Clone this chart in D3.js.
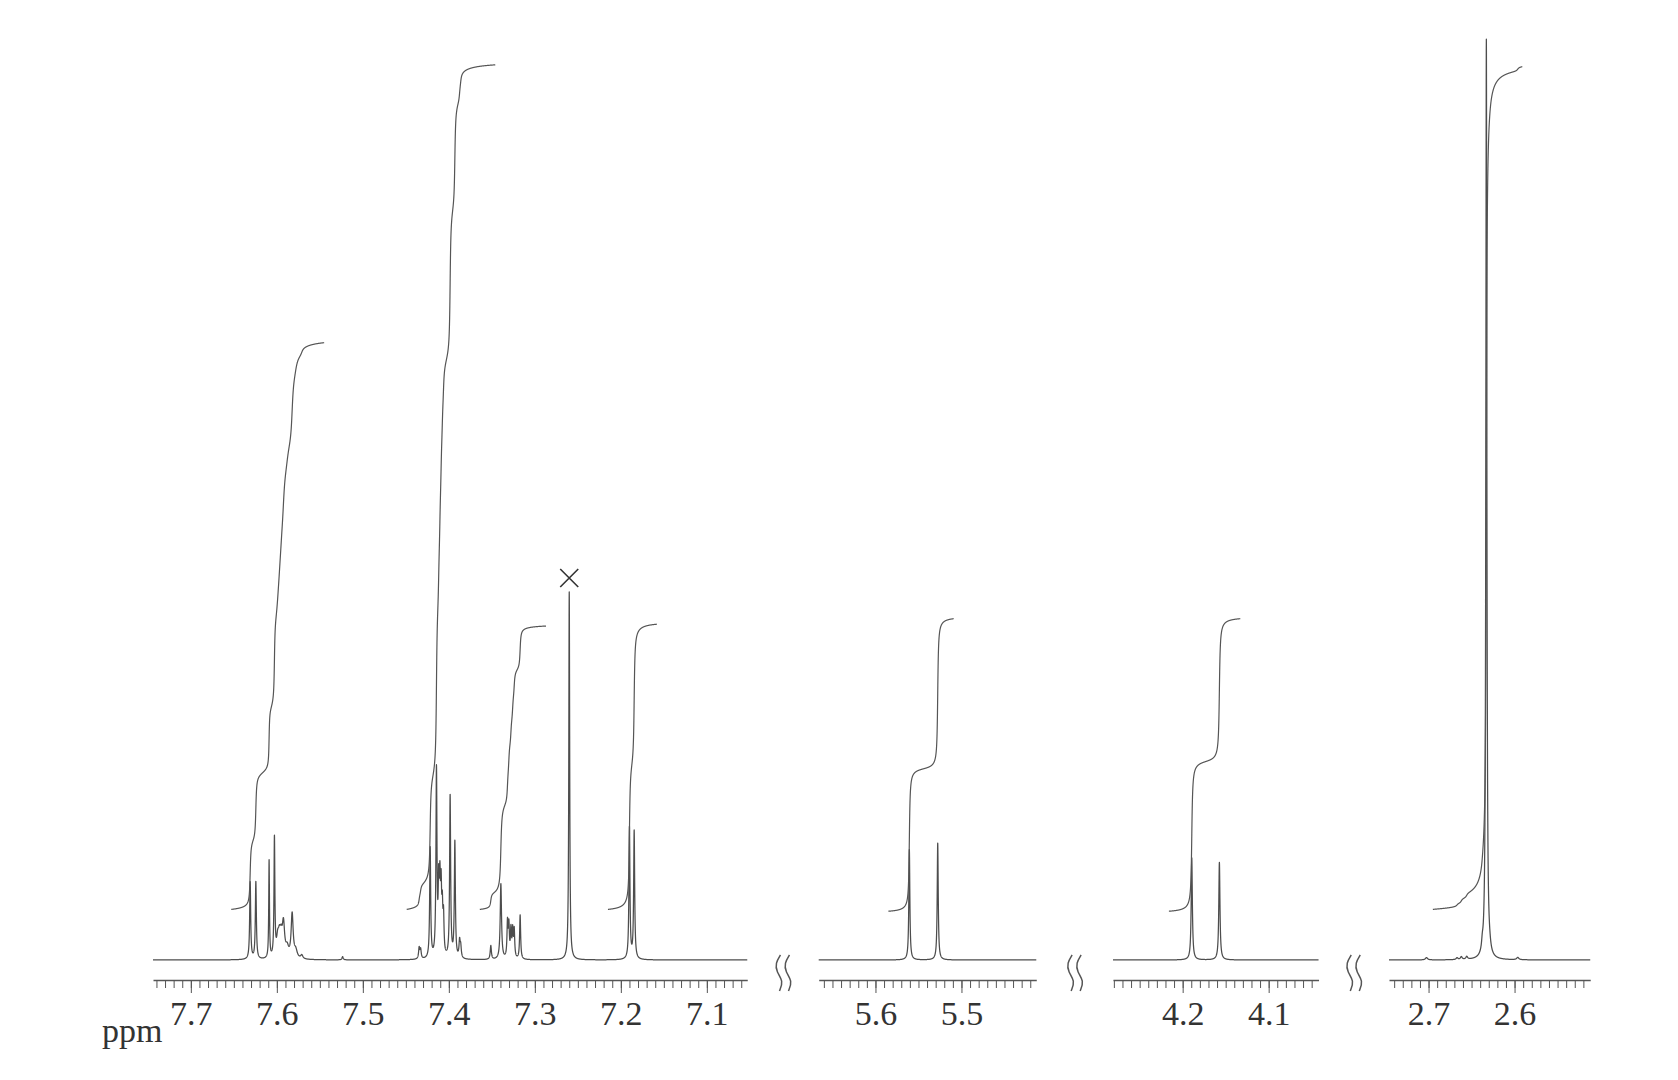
<!DOCTYPE html>
<html>
<head>
<meta charset="utf-8">
<script src="https://cdn.jsdelivr.net/npm/d3@7"></script>
<style>
  body { margin: 0; background: #fff; }
  svg { display: block; }
</style>
</head>
<body>
<script>
// ---- data: chemical shift (ppm), height (0-100 scale), half width (ppm)
var m1 = [
  [7.6310, 8.4, 0.0007], [7.6244, 8.4, 0.0007], [7.6090, 10.6, 0.0005], [7.6028, 12.9, 0.0006],
  [7.5990, 1.8, 0.0016], [7.5970, 1.8, 0.0016], [7.5950, 1.8, 0.0016], [7.5923, 3.5, 0.0016],
  [7.5880, 1.0, 0.0020], [7.5822, 4.8, 0.0014], [7.5780, 0.8, 0.0020], [7.5710, 0.4, 0.0015]
];
var m2 = [
  [7.4345, 1.2, 0.0008], [7.4328, 1.0, 0.0008], [7.4217, 12.0, 0.0007], [7.4144, 20.2, 0.0007],
  [7.4118, 7.0, 0.0007], [7.4104, 7.0, 0.0007], [7.4090, 6.5, 0.0007], [7.4076, 4.5, 0.0007],
  [7.4062, 4.0, 0.0007], [7.3985, 17.6, 0.0007], [7.3930, 12.6, 0.0007], [7.3875, 1.8, 0.0008],
  [7.3862, 1.2, 0.0008]
];
var m3 = [
  [7.3512, 1.5, 0.0008], [7.3395, 8.2, 0.0009], [7.3318, 3.8, 0.0007], [7.3302, 3.4, 0.0007],
  [7.3278, 3.0, 0.0007], [7.3258, 2.9, 0.0007], [7.3240, 3.0, 0.0007], [7.3171, 4.8, 0.0007]
];
var m4 = [[7.1900, 14.3, 0.0007], [7.1845, 13.9, 0.0007]];
var m5 = [[5.5606, 12.0, 0.0007], [5.5276, 12.7, 0.0007]];
var m6 = [[4.1894, 11.1, 0.0008], [4.1573, 10.6, 0.0008]];
var m7 = [
  [2.7024, 0.25, 0.0015], [2.6669, 0.2, 0.0012], [2.6619, 0.3, 0.0012], [2.6556, 0.3, 0.0012],
  [2.6375, 0.8, 0.0010], [2.6328, 100, 0.0007], [2.6290, 0.4, 0.0015], [2.5963, 0.25, 0.0015]
];
var solvent = [[7.2600, 40, 0.0006]];   // CHCl3, marked with a cross
var bumps = [[7.5235, 0.35, 0.0008]];

// integrals: peaks, from ppm, to ppm, start level, end level
var integrals = [
  [m1, 7.653, 7.545, 5.5, 67.1],
  [m2, 7.449, 7.346, 5.5, 97.3],
  [m3, 7.364, 7.287, 5.5, 36.3],
  [m4, 7.215, 7.158, 5.5, 36.5],
  [m5, 5.585, 5.509, 5.3, 37.1],
  [m6, 4.216, 4.133, 5.3, 37.1],
  [m7, 2.695, 2.591, 5.5, 97.1]
];

// shown ppm windows and their labelled ticks
var panelRanges = [[7.744, 7.053], [5.666, 5.413], [4.281, 4.042], [2.746, 2.512]];
var panelLabels = [[7.7, 7.6, 7.5, 7.4, 7.3, 7.2, 7.1], [5.6, 5.5], [4.2, 4.1], [2.7, 2.6]];

// ---- layout
var width = 1678, height = 1080;
var pxPerPpm = 860;
var panelLeft = [153, 818.7, 1113, 1389];
var axisY = 980;
var lineColor = "#4d4d4d";

var allPeaks = [].concat(m1, m2, m3, m4, m5, m6, m7, solvent, bumps);

function spectrum(d) {
  var s = 0;
  for (const [p, h, w] of allPeaks) {
    var t = (d - p) / w;
    s += h / (1 + t * t);
  }
  return s;
}

function samples(hi, lo, peaks) {
  var pts = d3.range(hi, lo, -0.00008);
  pts.push(lo);
  for (const [p] of peaks) if (p <= hi && p >= lo) pts.push(p);
  return pts.sort((a, b) => b - a);
}

var svg = d3.select("body").append("svg")
    .attr("width", width)
    .attr("height", height);

var y = d3.scaleLinear().domain([0, 100]).range([960, 40]);

var xs = panelRanges.map((r, i) => d3.scaleLinear()
    .domain(r)
    .range([panelLeft[i], panelLeft[i] + (r[0] - r[1]) * pxPerPpm]));

panelRanges.forEach(function(r, i) {
  var x = xs[i];
  var g = svg.append("g");

  // spectrum trace
  var pts = samples(r[0], r[1], allPeaks);
  var line = d3.line().x(d => x(d)).y(d => y(spectrum(d)));
  g.append("path")
      .attr("d", line(pts))
      .attr("fill", "none")
      .attr("stroke", lineColor)
      .attr("stroke-width", 1.25)
      .attr("stroke-linejoin", "round");

  // axis: minor ticks every 0.01 ppm, labelled ticks every 0.1
  var minors = d3.range(Math.ceil(r[1] * 100), Math.floor(r[0] * 100) + 1).map(v => v / 100);
  var ax = svg.append("g").attr("transform", "translate(0," + axisY + ")");
  ax.append("g")
      .call(d3.axisBottom(x).tickValues(minors).tickSize(8).tickSizeOuter(0).tickFormat(""))
      .call(s => s.select(".domain").attr("stroke", "#555").attr("stroke-width", 1.3))
      .call(s => s.selectAll(".tick line").attr("stroke", "#555"));
  ax.append("g")
      .call(d3.axisBottom(x).tickValues(panelLabels[i]).tickSize(13).tickSizeOuter(0).tickFormat(d3.format(".1f")))
      .call(s => s.select(".domain").remove())
      .call(s => s.selectAll(".tick line").attr("stroke", "#555"))
      .call(s => s.selectAll(".tick text")
          .attr("y", 45).attr("dy", null)
          .attr("fill", "#333")
          .style("font-family", "'Liberation Serif', 'DejaVu Serif', serif")
          .style("font-size", "34px"));
});

// integral curves
function whichPanel(ppm) {
  return panelRanges.findIndex(r => ppm <= r[0] && ppm >= r[1]);
}

integrals.forEach(function([peaks, from, to, y0, y1]) {
  var x = xs[whichPanel(from)];
  var cum = d => d3.sum(peaks, ([p, h, w]) => h * w * (Math.PI / 2 - Math.atan((d - p) / w)));
  var c0 = cum(from), c1 = cum(to);
  var pts = samples(from, to, peaks);
  var line = d3.line()
      .x(d => x(d))
      .y(d => y(y0 + (cum(d) - c0) / (c1 - c0) * (y1 - y0)));
  svg.append("path")
      .attr("d", line(pts))
      .attr("fill", "none")
      .attr("stroke", "#555")
      .attr("stroke-width", 1.2);
});

// solvent cross
var sx = xs[0](solvent[0][0]), sy = y(solvent[0][1]) - 14;
svg.append("path")
    .attr("d", "M" + (sx - 9) + "," + (sy - 9) + "L" + (sx + 9) + "," + (sy + 9) +
               "M" + (sx + 9) + "," + (sy - 9) + "L" + (sx - 9) + "," + (sy + 9))
    .attr("stroke", "#333")
    .attr("stroke-width", 1.6);

// axis break marks between panels
var wave = d3.line().curve(d3.curveBasis);
for (var i = 0; i < xs.length - 1; i++) {
  var cx = (xs[i].range()[1] + xs[i + 1].range()[0]) / 2 + 1;
  [-4.5, 4.5].forEach(function(off) {
    var bx = cx + off;
    svg.append("path")
        .attr("d", wave([[bx + 1, 955], [bx - 4, 963], [bx - 3, 972], [bx + 4, 981], [bx, 991]]))
        .attr("fill", "none")
        .attr("stroke", "#555")
        .attr("stroke-width", 1.5);
  });
}

svg.append("text")
    .attr("x", 102)
    .attr("y", 1042)
    .attr("fill", "#333")
    .style("font-family", "'Liberation Serif', 'DejaVu Serif', serif")
    .style("font-size", "34px")
    .text("ppm");
</script>
</body>
</html>
